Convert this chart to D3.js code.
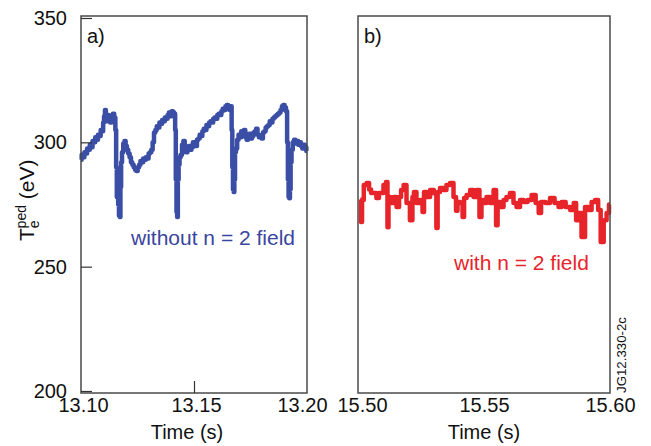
<!DOCTYPE html>
<html>
<head>
<meta charset="utf-8">
<script src="https://cdn.jsdelivr.net/npm/d3@7"></script>
<style>
  html, body { margin: 0; padding: 0; background: #fff; }
  svg { display: block; font-family: "Liberation Sans", Arial, Helvetica, sans-serif; }
</style>
</head>
<body>
<svg id="chart" width="651" height="446"></svg>
<script>
// ---- data ----
const panelLabels = ["a)", "b)"];
const seriesLabels = ["without n = 2 field", "with n = 2 field"];
const yTicks = [200, 250, 300, 350];
const xTicksA = [13.10, 13.15, 13.20];
const xTicksB = [15.50, 15.55, 15.60];
const xTitle = "Time (s)";
const figureCode = "JG12.330-2c";

const timeA = [
  13.1000,13.1006,13.1012,13.1018,13.1024,13.1030,13.1036,13.1042,13.1048,13.1054,13.1060,13.1066,13.1072,13.1078,13.1084,13.1090,13.1096,13.1100,13.1104,13.1108,
  13.1112,13.1116,13.1120,13.1126,13.1132,13.1138,13.1144,13.1150,
  13.1154,13.1157,13.1160,13.1163,13.1166,13.1170,13.1173,13.1176,13.1179,13.1184,13.1190,13.1195,
  13.1200,13.1206,13.1212,13.1218,13.1224,13.1230,13.1236,13.1242,13.1248,13.1254,13.1260,13.1266,13.1272,13.1278,13.1284,
  13.1290,13.1296,13.1302,13.1308,13.1314,13.1320,13.1326,13.1332,13.1338,13.1344,13.1350,13.1356,13.1362,13.1368,13.1374,13.1380,13.1386,13.1392,13.1398,13.1404,13.1410,13.1415,
  13.1418,13.1421,13.1424,13.1427,13.1430,13.1434,13.1438,13.1444,13.1450,13.1456,13.1462,13.1468,13.1474,13.1480,13.1486,13.1492,13.1498,13.1504,13.1510,
  13.1516,13.1522,13.1528,13.1534,13.1540,13.1546,13.1552,13.1558,13.1564,13.1570,13.1576,13.1582,13.1588,13.1594,13.1600,13.1606,13.1612,13.1618,13.1624,
  13.1630,13.1636,13.1642,13.1648,13.1654,13.1660,13.1665,
  13.1668,13.1671,13.1674,13.1677,13.1680,13.1683,13.1688,13.1694,13.1700,13.1706,13.1712,13.1718,13.1724,13.1730,13.1736,13.1742,13.1748,13.1754,13.1760,
  13.1766,13.1772,13.1778,13.1784,13.1790,13.1796,13.1802,13.1808,13.1814,13.1820,13.1826,13.1832,13.1838,13.1844,13.1850,13.1856,13.1862,13.1868,13.1874,
  13.1880,13.1886,13.1892,13.1898,13.1904,13.1910,
  13.1914,13.1917,13.1920,13.1923,13.1926,13.1929,13.1934,13.1940,13.1946,13.1952,13.1958,13.1964,13.1970,13.1976,13.1982,13.1988,13.1994,13.2000];
const tempA = [
  293.0,295.0,294.0,296.0,295.5,297.5,297.0,299.0,298.0,300.5,300.0,302.0,301.0,303.0,302.5,305.0,304.5,308.0,310.5,313.0,
  310.0,308.5,311.0,309.0,308.0,310.5,311.5,310.0,
  305.0,290.0,278.0,283.0,275.0,270.5,270.0,282.0,292.0,296.0,299.5,300.5,
  298.5,297.0,295.5,294.0,292.0,291.0,290.0,289.0,288.5,290.0,291.0,292.5,292.0,293.5,293.0,
  294.0,293.5,295.5,296.0,297.0,300.0,304.0,305.0,306.5,306.0,308.0,307.5,309.0,308.5,310.0,309.5,311.0,312.0,310.5,312.5,312.0,311.5,
  305.0,285.0,272.0,270.0,285.0,291.0,294.0,295.0,299.0,300.5,297.5,296.0,297.5,298.5,297.0,298.0,300.0,299.0,298.5,
  301.0,301.5,303.0,302.5,304.5,305.5,305.0,307.0,306.5,308.0,308.5,308.0,309.5,310.0,309.5,311.0,311.5,311.0,312.5,
  313.5,313.0,314.5,315.0,314.0,313.0,314.5,
  305.0,290.0,281.0,280.0,285.0,296.0,297.5,301.0,303.0,302.0,304.5,302.5,305.0,302.0,301.0,302.0,303.5,301.5,302.5,
  304.0,304.5,305.5,303.0,302.0,302.0,301.5,304.0,304.5,306.0,306.5,307.0,308.5,308.0,309.5,310.0,310.5,311.0,311.5,
  312.0,313.0,314.5,315.0,314.0,312.5,
  300.0,285.0,278.0,277.5,281.0,292.0,297.0,300.0,301.0,299.5,300.5,299.0,300.0,298.5,297.5,299.0,298.0,296.5];

const timeB = [15.5010,15.5014,15.5018,15.5028,15.5040,15.5048,15.5056,15.5067,15.5079,15.5087,15.5095,15.5107,15.5115,15.5119,15.5123,15.5135,
  15.5147,15.5159,15.5167,15.5175,15.5187,15.5198,15.5214,15.5218,15.5226,15.5238,15.5254,15.5258,15.5266,15.5278,15.5294,15.5308,15.5314,15.5318,
  15.5333,15.5345,15.5357,15.5373,15.5385,15.5393,15.5397,15.5413,15.5417,15.5425,15.5437,15.5453,15.5464,15.5476,15.5488,15.5492,15.5504,15.5516,
  15.5532,15.5544,15.5552,15.5556,15.5572,15.5583,15.5595,15.5611,15.5623,15.5635,15.5651,15.5663,15.5683,15.5695,15.5715,15.5719,15.5734,15.5754,
  15.5770,15.5790,15.5802,15.5814,15.5834,15.5850,15.5862,15.5869,15.5881,15.5893,15.5909,15.5921,15.5933,15.5949,15.5957,15.5969,15.5981,15.5992,15.6000];
const tempB = [277.0,268.0,276.8,282.8,283.6,281.0,279.6,279.6,277.6,279.6,279.6,282.8,284.0,265.9,278.0,275.6,
  278.0,274.0,278.0,280.8,282.8,275.6,268.7,278.0,280.0,275.6,276.8,272.0,280.0,278.0,280.8,279.5,265.5,280.0,
  281.6,280.8,282.8,283.6,278.0,272.5,276.0,275.6,270.0,277.6,278.8,280.8,278.0,280.8,270.0,276.8,275.6,278.0,
  275.6,280.8,266.7,276.0,274.0,276.8,278.0,279.6,275.6,274.0,276.8,276.0,276.8,278.8,275.6,271.6,276.0,275.6,
  277.6,275.6,274.0,276.0,274.0,272.8,275.6,268.7,271.6,261.9,274.0,272.8,276.0,276.8,272.8,259.9,268.7,271.6,275.0];

// ---- layout ----
const svg = d3.select("#chart");
const plotTop = 16, plotBottom = 393;
const y = d3.scaleLinear().domain([200, 350]).range([391, 18]);

const panels = [
  { x0: 81, x1: 307, domain: [13.10, 13.20], ticks: xTicksA, t: timeA, v: tempA, color: "#3a4ea6",
    textColor: "#3a45a0", label: panelLabels[0], series: seriesLabels[0], sx: 131, sy: 245, showY: true },
  { x0: 358, x1: 610, domain: [15.50, 15.60], ticks: xTicksB, t: timeB, v: tempB, color: "#e8242b",
    textColor: "#e8242b", label: panelLabels[1], series: seriesLabels[1], sx: 454, sy: 270, showY: false }
];

panels.forEach((p, i) => {
  const x = d3.scaleLinear().domain(p.domain).range([p.x0, p.x1]);
  const g = svg.append("g");
  const data = p.t.map((t, k) => [t, p.v[k]]);

  g.append("path")
    .datum(data)
    .attr("fill", "none")
    .attr("stroke", p.color)
    .attr("stroke-width", 4.5)
    .attr("stroke-linejoin", "round")
    .attr("d", d3.line().curve(d3.curveStep).x(d => x(d[0])).y(d => y(d[1])));

  // frame
  g.append("rect")
    .attr("x", p.x0).attr("y", plotTop)
    .attr("width", p.x1 - p.x0).attr("height", plotBottom - plotTop)
    .attr("fill", "none").attr("stroke", "#4a4a4a").attr("stroke-width", 1.5);

  // x axis (inner tick only at the centre of panel a)
  const xAxis = d3.axisBottom(x).tickValues(p.ticks).tickFormat(d3.format(".2f"))
    .tickSizeInner(i === 0 ? -12 : 0).tickSizeOuter(0).tickPadding(6);
  const xg = g.append("g").attr("transform", `translate(0,${plotBottom})`).call(xAxis);
  xg.select(".domain").remove();
  xg.selectAll(".tick line").attr("stroke", "#333").attr("stroke-width", 1.2)
    .attr("opacity", (d, k) => (k === 1 ? 1 : 0));
  xg.selectAll(".tick text").attr("font-size", 20).attr("fill", "#111")
    .attr("font-family", "Liberation Sans, Arial, sans-serif")
    .attr("y", 5)
    .attr("dy", "0.71em")
    .attr("dx", (d, k) => (i === 0 ? (k === 2 ? -5 : 2) : (k === 0 ? 4 : 0)));

  g.append("text")
    .attr("x", (p.x0 + p.x1) / 2 - (i === 0 ? 7 : 0)).attr("y", 439)
    .attr("text-anchor", "middle").attr("font-size", 20).attr("fill", "#111")
    .text(xTitle);

  if (p.showY) {
    const yAxis = d3.axisLeft(y).tickValues(yTicks).tickFormat(d3.format("d"))
      .tickSizeInner(-11).tickSizeOuter(0).tickPadding(14);
    const yg = g.append("g").attr("transform", `translate(${p.x0},0)`).call(yAxis);
    yg.select(".domain").remove();
    yg.selectAll(".tick line").attr("stroke", "#333").attr("stroke-width", 1.2);
    yg.selectAll(".tick text").attr("font-size", 20).attr("fill", "#111")
      .attr("font-family", "Liberation Sans, Arial, sans-serif");
  }

  // panel label
  g.append("text").attr("x", p.x0 + 6).attr("y", 43)
    .attr("font-size", 20).attr("fill", "#111").text(p.label);

  // series annotation
  g.append("text").attr("x", p.sx).attr("y", p.sy)
    .attr("font-size", 21).attr("fill", p.textColor).text(p.series);
});

// y axis title: T_e^ped (eV)
const yt = svg.append("text")
  .attr("transform", "translate(34,241) rotate(-90)")
  .attr("font-size", 21).attr("fill", "#111");
yt.append("tspan").text("T");
yt.append("tspan").attr("font-size", 14).attr("dy", 5).text("e");
yt.append("tspan").attr("font-size", 14).attr("dx", -8).attr("dy", -13).text("ped");
yt.append("tspan").attr("dy", 8).text(" (eV)");

// figure code
svg.append("text")
  .attr("transform", "translate(626,393) rotate(-90)")
  .attr("font-size", 12).attr("fill", "#111")
  .attr("textLength", 76).attr("lengthAdjust", "spacingAndGlyphs")
  .text(figureCode);
</script>
</body>
</html>
